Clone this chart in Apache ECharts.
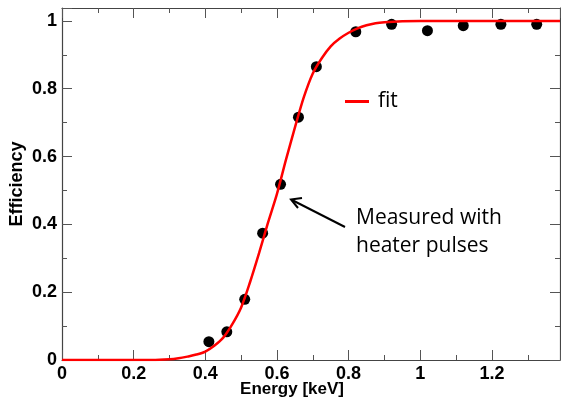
<!DOCTYPE html>
<html>
<head>
<meta charset="utf-8">
<script src="https://cdn.jsdelivr.net/npm/echarts@6/dist/echarts.min.js"></script>
<style>html,body{margin:0;padding:0;background:#fff}#c{width:561px;height:401px}</style>
</head>
<body>
<div id="c"></div>
<script>
// Measured points (Energy keV, Efficiency)
const measEnergy = [0.41, 0.46, 0.51, 0.56, 0.61, 0.66, 0.71, 0.82, 0.92, 1.02, 1.12, 1.225, 1.325];
const measEff    = [0.054, 0.083, 0.179, 0.374, 0.518, 0.716, 0.865, 0.968, 0.990, 0.971, 0.986, 0.990, 0.990];
// Fit curve
const fitEnergy = [0, 0.25, 0.3, 0.325, 0.35, 0.375, 0.4, 0.425, 0.45, 0.475, 0.5, 0.525, 0.55, 0.575, 0.6, 0.625, 0.65, 0.675, 0.7, 0.725, 0.75, 0.775, 0.8, 0.825, 0.85, 0.875, 0.9, 0.95, 1.0, 1.1, 1.2, 1.3, 1.39];
const fitEff    = [0, 0, 0.002, 0.005, 0.01, 0.016, 0.025, 0.042, 0.066, 0.105, 0.155, 0.23, 0.315, 0.405, 0.49, 0.59, 0.685, 0.775, 0.845, 0.89, 0.925, 0.948, 0.965, 0.978, 0.987, 0.993, 0.996, 0.999, 1.0, 1.0, 1.0, 1.0, 1.0];
const xTicks = [0, 0.2, 0.4, 0.6, 0.8, 1, 1.2];
const yTicks = [0, 0.2, 0.4, 0.6, 0.8, 1];
const legendName = 'fit';
const annotation = 'Measured with\nheater pulses';

const chart = echarts.init(document.getElementById('c'), null, {renderer: 'canvas'});
const lblFont = {fontFamily: 'Liberation Sans, Arial, sans-serif', fontWeight: 'bold', fontSize: 18, color: '#000'};
const frameLine = () => ({show: true, onZero: false, lineStyle: {color: '#444', width: 1.2}});
const tick = () => ({show: true, inside: true, length: 10, lineStyle: {color: '#555', width: 1}});
const minor = () => ({show: true, splitNumber: 2, length: 5, lineStyle: {color: '#555', width: 1}});

chart.setOption({
  animation: false,
  grid: {left: 62, right: 1, top: 8, bottom: 41, containLabel: false, outerBoundsMode: 'none'},
  legend: {
    data: [{name: legendName, icon: 'rect'}],
    left: 340, top: 86, itemWidth: 24, itemHeight: 3, itemGap: 10,
    textStyle: {fontFamily: 'Open Sans, sans-serif', fontSize: 21, color: '#000', padding: [0,0,0,4]}
  },
  xAxis: [{
    type: 'value', gridIndex: 0, min: 0, max: 1.39, interval: 0.2, position: 'bottom',
    axisLine: frameLine(), axisTick: tick(), minorTick: minor(), splitLine: {show: false},
    axisLabel: Object.assign({margin: 5, formatter: v => xTicks.includes(+v.toFixed(1)) ? String(+v.toFixed(1)) : '', showMaxLabel: false}, lblFont),
    name: 'Energy [keV]', nameLocation: 'middle', nameGap: 21, nameMoveOverlap: false,
    nameTextStyle: {fontFamily: 'Liberation Sans, Arial, sans-serif', fontWeight: 'bold', fontSize: 17, color: '#000', padding: [0, 38, 0, 0]}
  }, {
    type: 'value', gridIndex: 0, min: 0, max: 1.39, interval: 0.2, position: 'top', offset: 0,
    axisLine: frameLine(), axisTick: tick(), minorTick: minor(), splitLine: {show: false}, axisLabel: {show: false}
  }],
  yAxis: [{
    type: 'value', gridIndex: 0, min: 0, max: 1.038, interval: 0.2, position: 'left',
    axisLine: frameLine(), axisTick: tick(), minorTick: minor(), splitLine: {show: false},
    axisLabel: Object.assign({margin: 5, showMaxLabel: false, formatter: v => yTicks.includes(+v.toFixed(1)) ? String(+v.toFixed(1)) : ''}, lblFont),
    name: 'Efficiency', nameLocation: 'middle', nameGap: 36, nameMoveOverlap: false,
    nameTextStyle: {fontFamily: 'Liberation Sans, Arial, sans-serif', fontWeight: 'bold', fontSize: 18, color: '#000'}
  }, {
    type: 'value', gridIndex: 0, min: 0, max: 1.038, interval: 0.2, position: 'right', offset: 0,
    axisLine: frameLine(), axisTick: tick(), minorTick: minor(), splitLine: {show: false}, axisLabel: {show: false}
  }],
  series: [{
    name: 'measured', type: 'scatter', symbol: 'circle', symbolSize: 11,
    itemStyle: {color: '#000', opacity: 1},
    data: measEnergy.map((x, i) => [x, measEff[i]]), z: 3
  }, {
    name: legendName, type: 'line', smooth: 0.3, showSymbol: false, symbol: 'none',
    lineStyle: {color: '#ff0000', width: 2.5}, itemStyle: {color: '#ff0000'},
    data: fitEnergy.map((x, i) => [x, fitEff[i]]), z: 4
  }],
  graphic: [
    {type: 'text', left: 356, top: 204, style: {text: annotation, fontFamily: 'Open Sans, sans-serif', fontSize: 21, lineHeight: 28, fill: '#000'}},
    {type: 'line', shape: {x1: 345, y1: 227, x2: 292, y2: 200}, style: {stroke: '#000', lineWidth: 2}},
    {type: 'polyline', shape: {points: [[302, 198], [291, 199.5], [298, 208]]}, style: {stroke: '#000', lineWidth: 2, fill: null}}
  ]
});
</script>
</body>
</html>
